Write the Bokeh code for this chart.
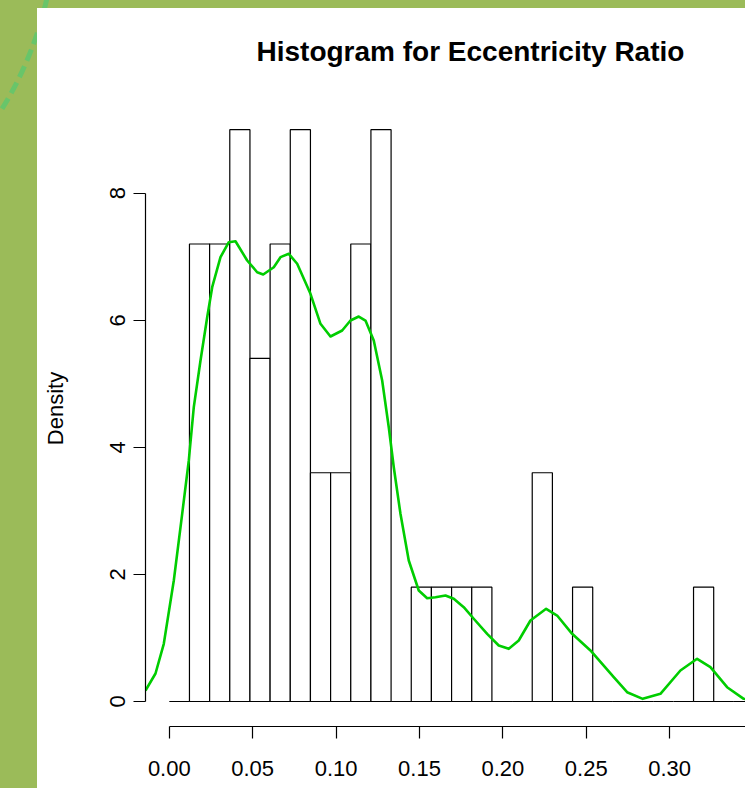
from bokeh.plotting import figure
from bokeh.models import Range1d, FixedTicker, NumeralTickFormatter, ColumnDataSource
from bokeh.layouts import column
from bokeh.embed import file_html
from bokeh.resources import INLINE

# Histogram of eccentricity ratio (density scale), equal-width bins from 0
bin_width = 0.01209
densities = [0.0, 7.2, 7.2, 9.0, 5.4, 7.2, 9.0, 3.6, 3.6, 7.2, 9.0, 0.0,
             1.8, 1.8, 1.8, 1.8, 0.0, 0.0, 3.6, 0.0, 1.8, 0.0, 0.0, 0.0,
             0.0, 0.0, 1.8, 0.0, 0.0]

# Kernel density estimate overlaid on the histogram
kde_x = [-0.01427, -0.00827, -0.0033, 0.0027, 0.00773, 0.01169, 0.01469, 0.01871,
         0.02272, 0.02572, 0.0307, 0.03567, 0.03969, 0.0467, 0.0527, 0.0563,
         0.06265, 0.06667, 0.07164, 0.07668, 0.08465, 0.09065, 0.09664, 0.10366,
         0.10863, 0.11361, 0.11763, 0.1226, 0.12764, 0.1316, 0.1346, 0.13861,
         0.14359, 0.14958, 0.15462, 0.15959, 0.16559, 0.17056, 0.17656, 0.18255,
         0.19059, 0.19754, 0.20354, 0.20953, 0.21655, 0.22596, 0.23255, 0.24155,
         0.25252, 0.26649, 0.27452, 0.28387, 0.29448, 0.30647, 0.31649, 0.32446,
         0.33447, 0.34442, 0.3514]
kde_y = [0.173, 0.441, 0.908, 1.904, 2.954, 3.793, 4.632, 5.367,
         6.048, 6.52, 6.993, 7.229, 7.244, 6.941, 6.756, 6.72,
         6.835, 6.993, 7.046, 6.889, 6.416, 5.944, 5.744, 5.839,
         5.996, 6.059, 5.996, 5.681, 5.052, 4.317, 3.687, 2.954,
         2.219, 1.747, 1.626, 1.641, 1.668, 1.616, 1.484, 1.302,
         1.065, 0.881, 0.829, 0.96, 1.275, 1.459, 1.353, 1.065,
         0.803, 0.382, 0.146, 0.042, 0.121, 0.488, 0.672, 0.54,
         0.225, 0.042, 0.015]

x_ticks = [0.0, 0.05, 0.10, 0.15, 0.20, 0.25, 0.30, 0.35]
y_ticks = [0, 2, 4, 6, 8]

FONT = "Liberation Sans"

bins = ColumnDataSource(dict(
    left=[i * bin_width for i in range(len(densities))],
    right=[(i + 1) * bin_width for i in range(len(densities))],
    top=densities,
    bottom=[0.0] * len(densities),
))

p = figure(
    width=708, height=780,
    x_range=Range1d(-0.01427, 0.3455),
    y_range=Range1d(-0.3935, 9.616),
    output_backend="svg", toolbar_location=None,
    min_border_left=108, min_border_right=0,
    min_border_top=82, min_border_bottom=62,
    background_fill_color="white", border_fill_color="white",
    title="Histogram for Eccentricity Ratio",
)
p.margin = (8, 0, 0, 37)
p.styles = {"background-color": "white"}
p.outline_line_color = None
p.grid.visible = False

p.title.text_font = FONT
p.title.text_font_size = "28px"
p.title.text_font_style = "bold"
p.title.text_color = "black"
p.title.align = "left"
p.title.offset = 111
p.title.standoff = 48

p.quad(left="left", right="right", top="top", bottom="bottom", source=bins,
       fill_color="white", line_color="black", line_width=1.2)
p.line(kde_x, kde_y, line_color="#00CD00", line_width=2.6, line_join="round")

xa = p.xaxis[0]
xa.ticker = FixedTicker(ticks=x_ticks)
xa.formatter = NumeralTickFormatter(format="0.00")
xa.bounds = (0.0, 0.35)
ya = p.yaxis[0]
ya.ticker = FixedTicker(ticks=y_ticks)
ya.bounds = (0, 8)
ya.axis_label = "Density"
ya.major_label_orientation = "vertical"

for ax in (xa, ya):
    ax.axis_line_color = "black"
    ax.axis_line_width = 1.2
    ax.major_tick_line_color = "black"
    ax.major_tick_line_width = 1.2
    ax.major_tick_out = 12
    ax.major_tick_in = 0
    ax.minor_tick_line_color = None
    ax.major_label_text_font = FONT
    ax.major_label_text_font_size = "22px"
    ax.major_label_text_color = "black"
    ax.axis_label_text_font = FONT
    ax.axis_label_text_font_size = "22px"
    ax.axis_label_text_font_style = "normal"
    ax.axis_label_text_color = "black"

xa.major_label_standoff = 22
ya.major_label_standoff = 8
ya.axis_label_standoff = 40

arc_svg = (
    "data:image/svg+xml;utf8,"
    "<svg xmlns='http://www.w3.org/2000/svg' width='60' height='130'>"
    "<path d='M47 -2 Q33 60 0 112' fill='none' stroke='%2368C56A' "
    "stroke-width='5' stroke-dasharray='12 6'/></svg>"
)
page = column(
    p,
    styles={
        "background-color": "#9BBB59",
        "background-image": f"url(\"{arc_svg}\")",
        "background-repeat": "no-repeat",
    },
)

open("out.html", "w").write(file_html(page, INLINE))
